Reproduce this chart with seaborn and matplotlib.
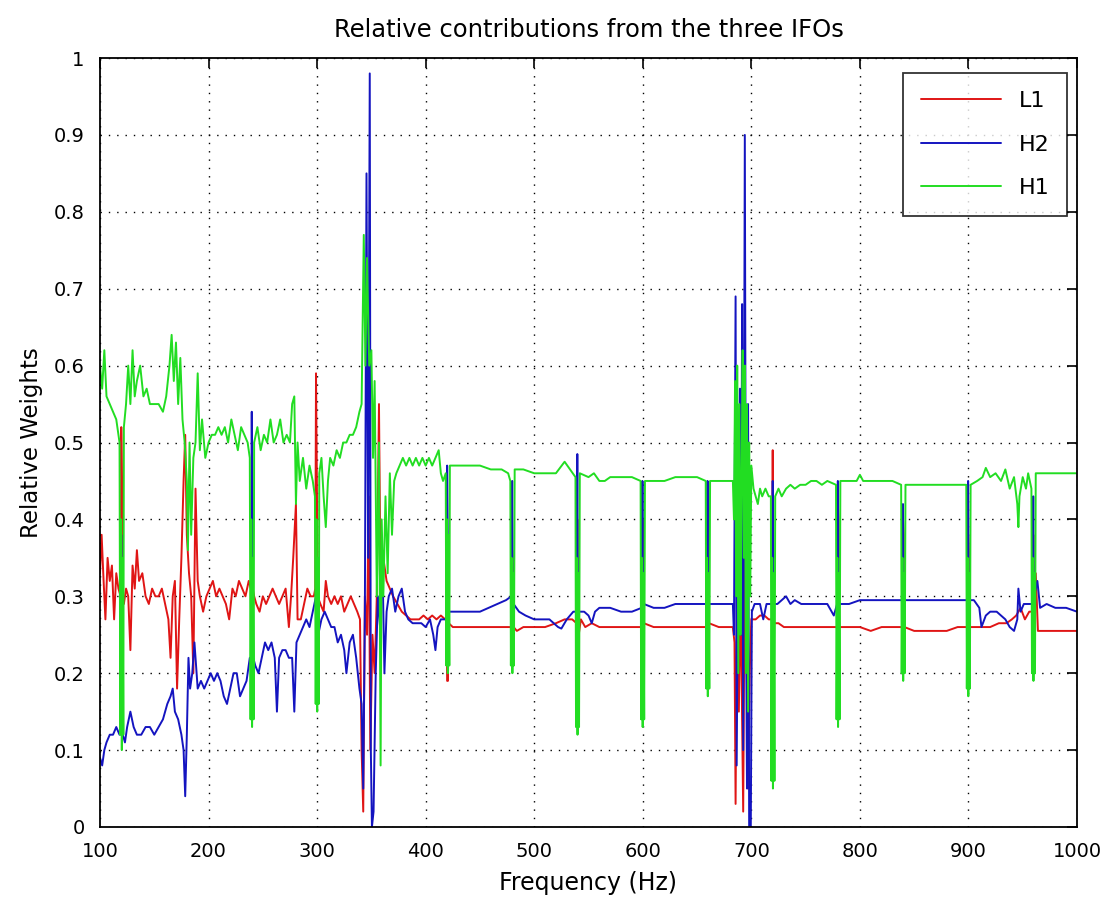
import matplotlib
matplotlib.use("Agg")
import matplotlib.pyplot as plt
import seaborn as sns
import pandas as pd

# ---------------- data ----------------
series_names = ["L1", "H2", "H1"]
series_colors = ["#e01515", "#1414c0", "#22dd22"]

# (frequency in Hz, relative weight)
l1_points = [
    (100, .33), (101.5, .38), (103, .33), (105, .27), (107, .35), (109, .32), (111, .34), (113, .27), (115, .33), (117, .31),
    (119, .30), (119.6, .52), (120.3, .45), (121, .30), (122, .29), (124, .31), (126, .30), (128, .23), (130, .34), (132, .31),
    (134, .36), (136, .32), (139, .33), (142, .30), (145, .29), (148, .31), (151, .30), (154, .30), (157, .31), (160, .29),
    (163, .27), (165, .22), (167, .30), (169, .32), (171, .18), (173, .27), (175, .35), (177, .45), (178.5, .51), (180, .38),
    (182, .33), (184, .30), (186, .20), (188, .44), (190, .32), (192, .30), (195, .28), (198, .30), (201, .31), (204, .32),
    (207, .30), (210, .31), (213, .30), (216, .29), (219, .27), (222, .31), (225, .30), (228, .32), (231, .31), (234, .30),
    (237, .32), (239, .31), (239.8, .34), (240.6, .31), (242, .30), (244, .29), (247, .28), (250, .30), (253, .29), (256, .30),
    (259, .31), (262, .30), (265, .29), (268, .30), (271, .31), (274, .26), (276, .30), (278, .35), (280.5, .42), (282, .27),
    (285, .27), (288, .29), (291, .31), (294, .30), (297, .30), (298.3, .31), (299, .59), (299.8, .45), (300.5, .30), (303, .29),
    (306, .28), (308, .32), (310, .30), (313, .29), (316, .30), (319, .29), (322, .30), (325, .28), (328, .29), (331, .30),
    (334, .29), (337, .28), (339.5, .27), (341, .10), (342.5, .02), (344, .30), (346, .25), (347.5, .43), (349, .10), (351, .25),
    (353, .20), (355, .30), (357, .55), (358.5, .30), (360, .36), (362, .34), (364, .32), (367, .31), (370, .30), (374, .29),
    (378, .28), (382, .275), (386, .27), (390, .27), (394, .27), (398, .275), (402, .27), (406, .275), (410, .27), (414, .275),
    (418, .27), (419.2, .27), (419.8, .19), (420.5, .19), (421.2, .265), (425, .26), (435, .26), (445, .26), (455, .26), (465, .26),
    (475, .26), (479, .26), (479.7, .36), (480.3, .34), (481, .26), (484, .255), (490, .26), (500, .26), (510, .26), (520, .265),
    (528, .27), (535, .27), (539, .265), (539.7, .40), (540.3, .30), (541, .25), (543, .27), (547, .26), (553, .265), (560, .26),
    (570, .26), (580, .26), (590, .26), (599, .26), (599.7, .40), (600.3, .38), (601, .265), (610, .26), (620, .26), (630, .26),
    (640, .26), (650, .26), (659, .26), (659.7, .38), (660.3, .36), (661, .265), (670, .26), (680, .26), (683, .26), (684.5, .24),
    (685.5, .03), (687, .35), (688.5, .15), (690, .30), (691, .20), (692.5, .02), (694, .37), (695.5, .25), (697, .05), (698.5, .20),
    (700, .27), (704, .27), (708, .275), (712, .275), (716, .27), (719, .27), (719.7, .49), (720.3, .30), (721, .265), (725, .265),
    (730, .26), (740, .26), (750, .26), (760, .26), (770, .26), (779, .26), (779.7, .42), (780.3, .40), (781, .26), (790, .26),
    (800, .26), (810, .255), (820, .26), (830, .26), (839, .26), (839.7, .40), (840.3, .38), (841, .26), (850, .255), (860, .255),
    (870, .255), (880, .255), (890, .26), (899, .26), (899.7, .38), (900.3, .36), (901, .26), (910, .26), (920, .26), (928, .265),
    (935, .265), (940, .27), (944, .275), (948, .285), (952, .27), (956, .28), (959, .28), (959.7, .38), (960.3, .30), (962, .33),
    (964, .255), (970, .255), (980, .255), (990, .255), (1000, .255),
]

h2_points = [
    (100, .09), (102, .08), (104, .10), (106, .11), (109, .12), (112, .12), (115, .13), (118, .12), (119, .13), (119.6, .38),
    (120.3, .30), (121, .12), (123, .11), (125, .13), (128, .15), (131, .13), (134, .12), (138, .12), (142, .13), (146, .13),
    (150, .12), (154, .13), (158, .14), (162, .16), (165, .17), (167, .18), (169, .15), (172, .14), (175, .12), (177, .10),
    (178.5, .04), (180, .12), (181.5, .22), (183, .18), (185, .20), (187, .24), (190, .18), (193, .19), (196, .18), (199, .19),
    (202, .20), (205, .19), (208, .20), (211, .19), (214, .17), (217, .16), (220, .18), (223, .20), (226, .20), (229, .17),
    (232, .18), (235, .19), (238, .22), (239.2, .22), (239.8, .54), (240.5, .30), (241.2, .22), (243, .21), (246, .20), (249, .22),
    (252, .24), (255, .23), (258, .24), (261, .22), (263, .15), (265, .22), (268, .23), (271, .23), (274, .22), (277, .22),
    (279, .15), (281, .24), (284, .25), (287, .26), (290, .27), (293, .26), (296, .28), (299, .30), (299.8, .32), (300.5, .25),
    (301, .25), (304, .27), (307, .28), (310, .27), (313, .26), (316, .26), (319, .24), (322, .25), (325, .23), (327, .20),
    (330, .24), (333, .25), (336, .22), (339, .18), (341, .16), (342.5, .05), (344, .28), (345.5, .85), (347, .35), (348.5, .98),
    (349.5, .10), (350.5, 0.0), (352, .02), (354, .20), (356, .30), (358, .26), (360, .36), (362, .20), (364, .28), (366, .30),
    (369, .31), (372, .28), (375, .30), (378, .31), (381, .28), (384, .27), (388, .265), (392, .265), (396, .265), (400, .26),
    (404, .27), (407, .25), (409, .23), (411, .26), (414, .27), (418, .27), (419.2, .27), (419.8, .47), (420.5, .36), (421.2, .28),
    (425, .28), (430, .28), (440, .28), (450, .28), (458, .285), (466, .29), (474, .295), (479, .30), (479.7, .45), (480.3, .31),
    (481, .29), (486, .28), (492, .275), (500, .27), (508, .27), (514, .27), (518, .265), (522, .26), (525, .258), (530, .27),
    (536, .28), (539, .28), (539.7, .485), (540.3, .30), (541, .28), (546, .28), (550, .275), (553, .265), (556, .28), (560, .285),
    (570, .285), (580, .28), (590, .28), (599, .285), (599.7, .45), (600.3, .30), (601, .29), (610, .285), (620, .285), (630, .29),
    (640, .29), (650, .29), (659, .29), (659.7, .45), (660.3, .30), (661, .29), (670, .29), (680, .29), (683, .29), (684, .25),
    (685.5, .69), (686.5, .08), (688, .40), (689.5, .57), (690.5, .25), (691.5, .68), (692.5, .10), (694, .90), (695, .30), (696, .05),
    (697, .55), (698, 0.0), (699.5, 0.0), (700.5, .28), (703, .29), (708, .29), (711, .27), (714, .29), (719, .29), (719.7, .45),
    (720.3, .30), (721, .29), (724, .29), (728, .295), (732, .30), (736, .29), (740, .295), (746, .29), (752, .29), (760, .29),
    (770, .29), (774, .28), (776, .275), (779, .29), (779.7, .45), (780.3, .30), (781, .29), (790, .29), (800, .295), (810, .295),
    (820, .295), (830, .295), (839, .295), (839.7, .42), (840.3, .30), (841, .295), (850, .295), (860, .295), (870, .295), (880, .295),
    (890, .295), (899, .295), (899.7, .45), (900.3, .30), (901, .295), (905, .295), (910, .285), (912, .26), (916, .275), (920, .28),
    (926, .28), (930, .275), (934, .27), (938, .26), (942, .255), (945, .27), (946, .31), (948, .28), (951, .29), (955, .29),
    (959, .29), (959.7, .43), (960.3, .30), (962, .31), (963.5, .32), (966, .285), (972, .29), (980, .285), (990, .285), (1000, .28),
]

h1_points = [
    (100, .60), (102, .57), (104, .62), (106, .56), (109, .55), (112, .54), (115, .53), (118, .50), (118.7, .12), (119.4, .40),
    (120.1, .10), (120.8, .35), (121.5, .12), (122, .52), (124, .55), (126, .60), (128, .55), (130, .62), (132, .56), (134, .58),
    (137, .60), (140, .56), (143, .57), (146, .55), (150, .55), (154, .55), (158, .54), (161, .56), (164, .60), (166, .64),
    (168, .58), (170, .63), (172, .55), (174, .61), (176, .53), (178, .50), (180, .45), (181, .36), (182.5, .50), (184, .38),
    (186, .48), (188, .50), (190, .59), (192, .49), (194, .53), (197, .48), (200, .50), (203, .51), (206, .51), (209, .52),
    (212, .51), (215, .52), (218, .50), (221, .53), (224, .51), (227, .49), (230, .52), (233, .51), (236, .50), (238, .48),
    (238.7, .14), (239.4, .40), (240.1, .13), (240.8, .35), (241.5, .14), (242, .50), (245, .52), (248, .49), (251, .51), (254, .50),
    (257, .53), (260, .50), (263, .51), (266, .53), (269, .50), (272, .51), (275, .50), (277, .55), (279, .56), (280.5, .42),
    (282, .50), (284, .45), (287, .48), (290, .44), (293, .47), (296, .45), (298, .43), (298.7, .16), (299.4, .40), (300.1, .15),
    (300.8, .35), (301.5, .16), (302, .46), (304, .48), (306, .43), (308, .39), (310, .45), (312, .48), (315, .47), (318, .49),
    (321, .48), (324, .50), (327, .50), (330, .51), (333, .51), (336, .52), (339, .54), (341, .55), (343, .77), (344.5, .60),
    (346, .74), (348, .60), (350, .62), (351.5, .48), (353, .58), (355, .30), (357, .50), (358.5, .08), (359.5, .40), (361, .30),
    (363, .43), (365, .33), (367, .46), (369, .38), (371, .45), (373, .46), (376, .47), (379, .48), (382, .47), (385, .48),
    (388, .47), (391, .48), (394, .47), (397, .48), (400, .47), (403, .48), (406, .47), (409, .48), (412, .49), (414, .46),
    (416, .45), (418.5, .46), (419, .21), (419.7, .40), (420.4, .20), (421.1, .38), (421.8, .21), (422.3, .47), (425, .47), (430, .47),
    (440, .47), (450, .47), (460, .465), (470, .465), (476, .46), (478, .45), (478.5, .21), (479.2, .35), (479.9, .20), (480.6, .33),
    (481.3, .21), (482, .465), (490, .465), (500, .46), (510, .46), (520, .46), (528, .475), (533, .465), (538, .455), (538.5, .13),
    (539.2, .35), (539.9, .12), (540.6, .33), (541.3, .13), (542, .46), (550, .455), (555, .46), (560, .45), (565, .45), (570, .455),
    (580, .455), (590, .455), (598, .45), (598.5, .14), (599.2, .35), (599.9, .13), (600.6, .33), (601.3, .14), (602, .45), (610, .45),
    (620, .45), (630, .455), (640, .455), (650, .455), (658, .45), (658.5, .18), (659.2, .35), (659.9, .17), (660.6, .33), (661.3, .18),
    (662, .45), (670, .45), (680, .45), (683, .45), (684, .40), (685, .58), (686, .30), (687, .60), (688, .20), (689, .55),
    (690, .25), (691, .45), (692, .62), (693, .35), (694, .60), (695, .20), (696, .55), (697, .15), (698, .50), (699, .30),
    (700, .47), (702, .44), (704, .43), (706, .42), (708, .44), (710, .43), (713, .44), (716, .43), (718, .43), (718.5, .06),
    (719.2, .35), (719.9, .05), (720.6, .33), (721.3, .06), (722, .43), (725, .44), (728, .43), (732, .44), (736, .445), (740, .44),
    (745, .445), (750, .445), (755, .45), (760, .45), (765, .445), (770, .45), (778, .445), (778.5, .14), (779.2, .35), (779.9, .13),
    (780.6, .33), (781.3, .14), (782, .45), (790, .45), (797, .45), (800, .458), (803, .45), (810, .45), (820, .45), (830, .45),
    (838, .445), (838.5, .20), (839.2, .35), (839.9, .19), (840.6, .33), (841.3, .20), (842, .445), (850, .445), (860, .445), (870, .445),
    (880, .445), (890, .445), (898, .445), (898.5, .18), (899.2, .35), (899.9, .17), (900.6, .33), (901.3, .18), (902, .445), (908, .45),
    (913, .455), (916, .467), (920, .455), (925, .46), (930, .45), (934, .465), (938, .44), (942, .455), (945, .42), (946, .39),
    (947, .43), (950, .455), (953, .44), (955, .46), (958, .44), (958.5, .20), (959.2, .35), (959.9, .19), (960.6, .33), (961.3, .20),
    (962, .46), (970, .46), (980, .46), (990, .46), (1000, .46),
]

x_ticks = [100, 200, 300, 400, 500, 600, 700, 800, 900, 1000]
y_ticks = [0, 0.1, 0.2, 0.3, 0.4, 0.5, 0.6, 0.7, 0.8, 0.9, 1]
y_tick_labels = ["0", "0.1", "0.2", "0.3", "0.4", "0.5", "0.6", "0.7", "0.8", "0.9", "1"]

title_text = "Relative contributions from the three IFOs"
x_label = "Frequency (Hz)"
y_label = "Relative Weights"

# ---------------- build table ----------------
frames = []
for name, pts in zip(series_names, [l1_points, h2_points, h1_points]):
    frames.append(pd.DataFrame({"freq": [p[0] for p in pts],
                                "weight": [p[1] for p in pts],
                                "IFO": name}))
df = pd.concat(frames, ignore_index=True)

# ---------------- plot ----------------
sns.set_style("white")
plt.rcParams["font.family"] = ["DejaVu Sans"]
plt.rcParams["text.color"] = "black"
plt.rcParams["axes.labelcolor"] = "black"

fig = plt.figure(figsize=(11.11, 9.14), dpi=100)
ax = fig.add_axes([0.09, 0.0952, 0.8794, 0.8413])

sns.lineplot(data=df, x="freq", y="weight", hue="IFO", hue_order=series_names,
             palette=dict(zip(series_names, series_colors)), estimator=None,
             sort=False, linewidth=1.4, ax=ax, legend=False)

ax.set_xlim(100, 1000)
ax.set_ylim(0, 1)
ax.set_xticks(x_ticks)
ax.set_xticklabels([str(t) for t in x_ticks])
ax.set_yticks(y_ticks)
ax.set_yticklabels(y_tick_labels)
ax.grid(True, linestyle=(0, (1, 5)), color="black", linewidth=1.0)
ax.tick_params(direction="in", length=7, width=1.2, top=True, right=True,
               labelsize=14, colors="black")
ax.tick_params(axis="x", pad=11)
ax.tick_params(axis="y", pad=11)
for sp in ax.spines.values():
    sp.set_color("black")
    sp.set_linewidth(1.3)

ax.set_title(title_text, fontsize=17.5, pad=15, color="black")
ax.set_xlabel(x_label, fontsize=17, labelpad=7)
ax.set_ylabel(y_label, fontsize=16.5, labelpad=8)

handles = [plt.Line2D([], [], color=c, linewidth=1.4) for c in series_colors]
leg = ax.legend(handles, series_names, loc="upper right", fontsize=16,
                frameon=True, fancybox=False, edgecolor="black",
                handlelength=3.6, borderpad=0.8, labelspacing=1.05,
                borderaxespad=0, bbox_to_anchor=(0.9898, 0.98))
leg.get_frame().set_linewidth(1.3)

fig.savefig("out.png", dpi=100)
